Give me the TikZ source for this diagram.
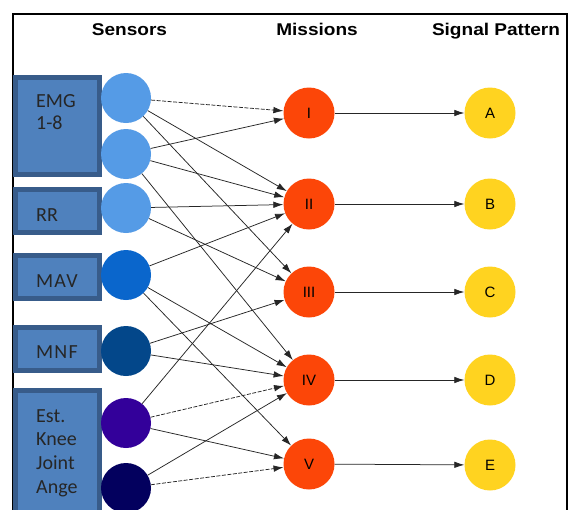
\documentclass[tikz,border=0pt]{standalone}
\usepackage{fontspec}
\setmainfont{Liberation Sans}
\newfontfamily\boxfont{Carlito}
\usetikzlibrary{arrows.meta}
\definecolor{boxfill}{HTML}{4F81BD}
\definecolor{boxline}{HTML}{385C8A}
\definecolor{senA}{HTML}{559BE6}
\definecolor{senB}{HTML}{0A66CC}
\definecolor{senC}{HTML}{03478A}
\definecolor{senD}{HTML}{33009A}
\definecolor{senE}{HTML}{03005E}
\definecolor{misc}{HTML}{FC4608}
\definecolor{sigc}{HTML}{FFD320}
\begin{document}
\begin{tikzpicture}[x=1pt,y=-1pt,
  sbox/.style={draw=boxline, fill=boxfill, line width=5pt, inner sep=0pt, minimum width=84pt},
  btext/.style={inner sep=0pt, anchor=base west, text=black!85, font=\boxfont\fontsize{20}{23}\selectfont},
  head/.style={inner sep=0pt, anchor=base, font=\bfseries\fontsize{17}{20}\selectfont},
  sensor/.style={circle, inner sep=0pt, minimum size=50pt},
  mission/.style={circle, fill=misc, inner sep=0pt, minimum size=51pt, font=\fontsize{15}{18}\selectfont},
  signal/.style={circle, fill=sigc, inner sep=0pt, minimum size=51pt, font=\fontsize{15}{18}\selectfont},
  link/.style={draw=black!85, line width=0.75pt, -{Latex[length=10pt,width=6.5pt]}},
  dlink/.style={link, dash pattern=on 4pt off 1.5pt}
]
\useasboundingbox (0,0) rectangle (569,509);
\clip (0,0) rectangle (569,509);
\fill[white] (0,0) rectangle (569,509);
% frame
\draw[line width=2pt] (13,520) -- (13,14) -- (567,14) -- (567,520);
% headers
\node[head] (hs) at (129.5,35) {\scalebox{1.12}[1]{Sensors}};
\node[head] (hm) at (317,35) {\scalebox{1.12}[1]{Missions}};
\node[head] (hp) at (496,35) {\scalebox{1.12}[1]{Signal Pattern}};
% boxes
\node[sbox, minimum height=97pt] (b1) at (57.5,126) {};
\node[sbox, minimum height=43pt] (b2) at (57.5,211) {};
\node[sbox, minimum height=43pt] (b3) at (57.5,277) {};
\node[sbox, minimum height=43pt] (b4) at (57.5,349) {};
\node[sbox, minimum height=137pt] (b5) at (57.5,459) {};
\node[btext] (t1a) at (36,107) {EMG};
\node[btext] (t1b) at (36,129) {1-8};
\node[btext] (t2) at (36,221) {RR};
\node[btext] (t3) at (36,287) {\addfontfeature{LetterSpace=6}MAV};
\node[btext] (t4) at (36,358) {\addfontfeature{LetterSpace=6}MNF};
\node[btext] (t5a) at (36,422) {Est.};
\node[btext] (t5b) at (36,445) {Knee};
\node[btext] (t5c) at (36,469) {Joint};
\node[btext] (t5d) at (36,493) {Ange};
% sensors
\node[sensor, fill=senA] (s1) at (126,98) {};
\node[sensor, fill=senA] (s2) at (126,154) {};
\node[sensor, fill=senA] (s3) at (126,208) {};
\node[sensor, fill=senB] (s4) at (126,275) {};
\node[sensor, fill=senC] (s5) at (126,351) {};
\node[sensor, fill=senD] (s6) at (126,423) {};
\node[sensor, fill=senE] (s7) at (126,488) {};
% missions
\node[mission] (m1) at (309,113) {I};
\node[mission] (m2) at (309,204) {II};
\node[mission] (m3) at (309,292) {III};
\node[mission] (m4) at (309,380) {IV};
\node[mission] (m5) at (309,464) {V};
% signal patterns
\node[signal] (p1) at (490,113) {A};
\node[signal] (p2) at (490,204) {B};
\node[signal] (p3) at (490,292) {C};
\node[signal] (p4) at (490,380) {D};
\node[signal] (p5) at (490,465) {E};
% sensor -> mission
\draw[dlink] (s1) -- (m1);
\draw[link] (s1) -- (m2);
\draw[link] (s1) -- (m3);
\draw[link] (s2) -- (m1);
\draw[link] (s2) -- (m2);
\draw[link] (s2) -- (m4);
\draw[link] (s3) -- (m2);
\draw[link] (s3) -- (m3);
\draw[link] (s4) -- (m2);
\draw[link] (s4) -- (m4);
\draw[link] (s4) -- (m5);
\draw[link] (s5) -- (m3);
\draw[link] (s5) -- (m4);
\draw[link] (s6) -- (m2);
\draw[dlink] (s6) -- (m4);
\draw[link] (s6) -- (m5);
\draw[link] (s7) -- (m4);
\draw[dlink] (s7) -- (m5);
% mission -> signal
\draw[link] (m1) -- (p1);
\draw[link] (m2) -- (p2);
\draw[link] (m3) -- (p3);
\draw[link] (m4) -- (p4);
\draw[link] (m5) -- (p5);
\end{tikzpicture}
\end{document}
